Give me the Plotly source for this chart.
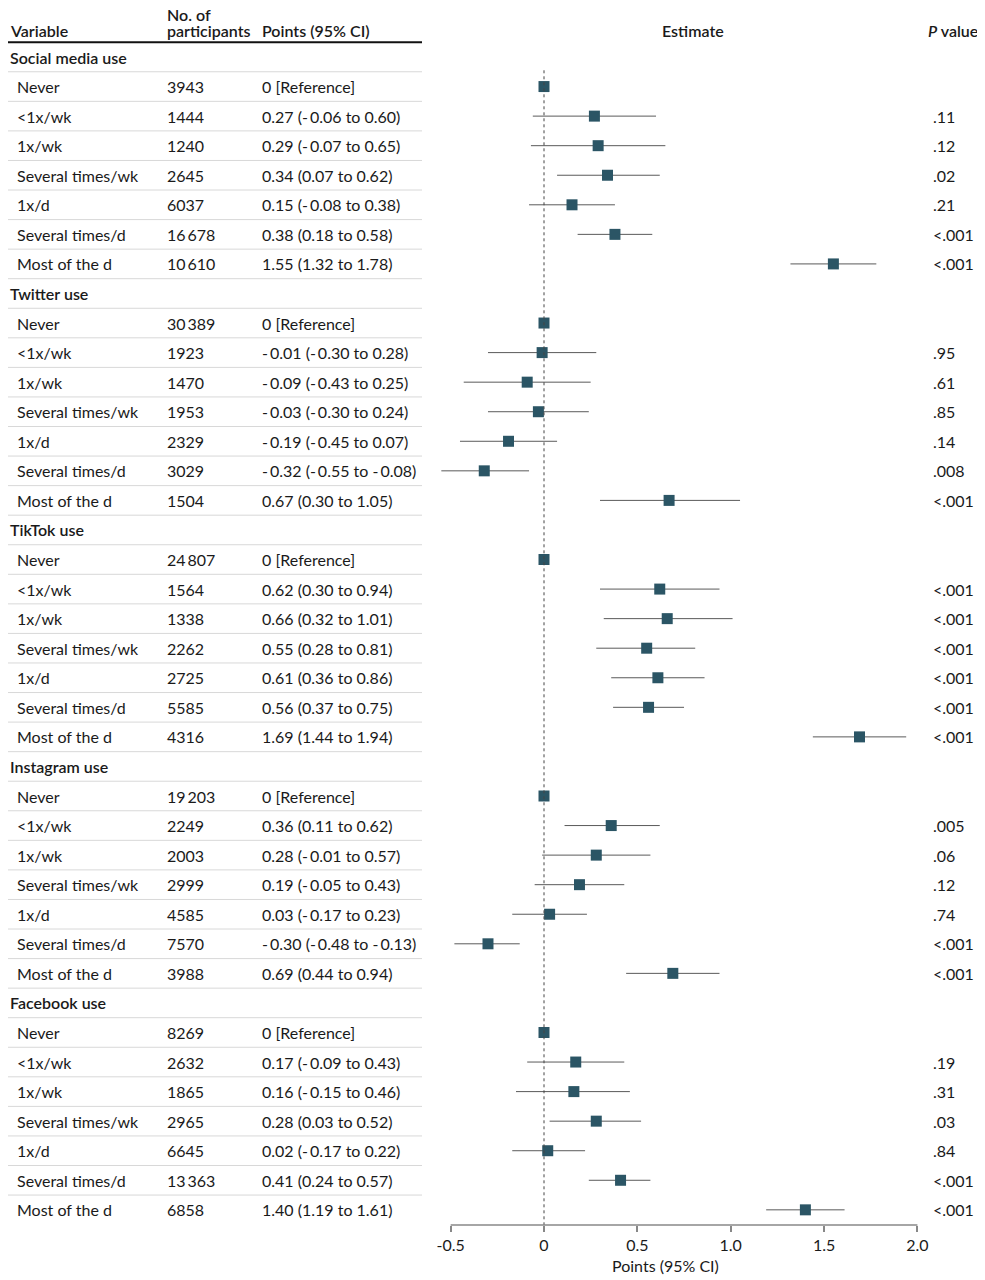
import plotly.graph_objects as go

# groups and row labels
groups = ["Social media use", "Twitter use", "TikTok use", "Instagram use", "Facebook use"]
levels = ["Never", "<1x/wk", "1x/wk", "Several times/wk", "1x/d", "Several times/d", "Most of the d"]

# participants per level, per group
n_social = [3943, 1444, 1240, 2645, 6037, 16678, 10610]
n_twitter = [30389, 1923, 1470, 1953, 2329, 3029, 1504]
n_tiktok = [24807, 1564, 1338, 2262, 2725, 5585, 4316]
n_instagram = [19203, 2249, 2003, 2999, 4585, 7570, 3988]
n_facebook = [8269, 2632, 1865, 2965, 6645, 13363, 6858]

# estimates (first level is the reference)
est_social = [0, 0.27, 0.29, 0.34, 0.15, 0.38, 1.55]
lo_social = [0, -0.06, -0.07, 0.07, -0.08, 0.18, 1.32]
hi_social = [0, 0.60, 0.65, 0.62, 0.38, 0.58, 1.78]
p_social = ["", ".11", ".12", ".02", ".21", "<.001", "<.001"]

est_twitter = [0, -0.01, -0.09, -0.03, -0.19, -0.32, 0.67]
lo_twitter = [0, -0.30, -0.43, -0.30, -0.45, -0.55, 0.30]
hi_twitter = [0, 0.28, 0.25, 0.24, 0.07, -0.08, 1.05]
p_twitter = ["", ".95", ".61", ".85", ".14", ".008", "<.001"]

est_tiktok = [0, 0.62, 0.66, 0.55, 0.61, 0.56, 1.69]
lo_tiktok = [0, 0.30, 0.32, 0.28, 0.36, 0.37, 1.44]
hi_tiktok = [0, 0.94, 1.01, 0.81, 0.86, 0.75, 1.94]
p_tiktok = ["", "<.001", "<.001", "<.001", "<.001", "<.001", "<.001"]

est_instagram = [0, 0.36, 0.28, 0.19, 0.03, -0.30, 0.69]
lo_instagram = [0, 0.11, -0.01, -0.05, -0.17, -0.48, 0.44]
hi_instagram = [0, 0.62, 0.57, 0.43, 0.23, -0.13, 0.94]
p_instagram = ["", ".005", ".06", ".12", ".74", "<.001", "<.001"]

est_facebook = [0, 0.17, 0.16, 0.28, 0.02, 0.41, 1.40]
lo_facebook = [0, -0.09, -0.15, 0.03, -0.17, 0.24, 1.19]
hi_facebook = [0, 0.43, 0.46, 0.52, 0.22, 0.57, 1.61]
p_facebook = ["", ".19", ".31", ".03", ".84", "<.001", "<.001"]

x_ticks = [-0.5, 0, 0.5, 1.0, 1.5, 2.0]
x_ticktext = ["-0.5", "0", "0.5", "1.0", "1.5", "2.0"]

all_n = [n_social, n_twitter, n_tiktok, n_instagram, n_facebook]
all_est = [est_social, est_twitter, est_tiktok, est_instagram, est_facebook]
all_lo = [lo_social, lo_twitter, lo_tiktok, lo_instagram, lo_facebook]
all_hi = [hi_social, hi_twitter, hi_tiktok, hi_instagram, hi_facebook]
all_p = [p_social, p_twitter, p_tiktok, p_instagram, p_facebook]

FONT = "Lato"
FS = 16
TXT = "#1a1a1a"
MARK = "#2b5565"

# the page puts the figure 8 px in from the top-left corner
OFF = 8
W, H = 985 - OFF, 1280 - OFF

# pixel mapping (page pixels): x = 544 px at 0, 186.7 px per unit;
# rows 29.56 px apart, first at 57 px; axis line at 1225 px
px0, ppu = 544 - OFF, 186.7
bottom_px = 1225 - OFF
pitch, first_px = 29.56, 57 - OFF


def fx(px):
    return max(px - OFF, 0) / W


def row_of(py):
    return (py - OFF - first_px) / pitch


def fnum(v):
    if v < 0:
        return "-\u2009%.2f" % abs(v)
    return "%.2f" % v


def fn(n):
    if n >= 10000:
        return "{:,}".format(n).replace(",", "\u2009")
    return str(n)


annotations = []
shapes = []


def text(x, y, s, weight=400, xanchor="left"):
    annotations.append(dict(
        x=fx(x), xref="paper", y=y, yref="y", text=s, showarrow=False,
        xanchor=xanchor, yanchor="middle",
        font=dict(family=FONT, size=FS, color=TXT, weight=weight)
    ))


# rows
pt_x, pt_y, ci_x, ci_y = [], [], [], []
row = 0
for g, name in enumerate(groups):
    text(5, row, name, weight=600)
    row += 1
    for k, lev in enumerate(levels):
        text(15, row, lev)
        text(165, row, fn(all_n[g][k]))
        if k == 0:
            text(260, row, "0 [Reference]")
        else:
            text(260, row, "%s (%s to %s)" % (fnum(all_est[g][k]), fnum(all_lo[g][k]), fnum(all_hi[g][k])))
            text(931, row, all_p[g][k])
            ci_x += [all_lo[g][k], all_hi[g][k], None]
            ci_y += [row, row, None]
        pt_x.append(all_est[g][k])
        pt_y.append(row)
        row += 1

n_rows = row

# separators
shapes.append(dict(type="line", xref="paper", yref="y", x0=fx(5), x1=fx(422),
                   y0=-0.5, y1=-0.5, line=dict(color="#111", width=2)))
for i in range(n_rows - 1):
    shapes.append(dict(type="line", xref="paper", yref="y", x0=fx(5), x1=fx(422),
                       y0=i + 0.5, y1=i + 0.5, line=dict(color="#d8d8d8", width=1)))

# reference line at 0 and axis line
shapes.append(dict(type="line", xref="x", yref="y", x0=0, x1=0, y0=0.45, y1=n_rows - 0.5 + 0.02,
                   line=dict(color="#444", width=1, dash="dot")))
shapes.append(dict(type="line", xref="x", yref="paper", x0=-0.5, x1=2.0, y0=0, y1=0,
                   line=dict(color="#888", width=1.5)))

# headers
hy = row_of(30)
text(5, hy, "Variable", weight=600)
text(165, row_of(14), "No. of", weight=600)
text(165, hy, "participants", weight=600)
text(260, hy, "Points (95% CI)", weight=600)
text(693, hy, "Estimate", weight=600, xanchor="center")
text(926, hy, "<i>P</i> value", weight=600)

# axis title, below the plot area
annotations.append(dict(
    x=fx(665), xref="paper", y=(bottom_px - (1265 - OFF)) / bottom_px, yref="paper",
    text="Points (95% CI)", showarrow=False, xanchor="center", yanchor="middle",
    font=dict(family=FONT, size=FS, color=TXT)
))

fig = go.Figure()
fig.add_trace(go.Scatter(
    x=ci_x, y=ci_y, mode="lines", line=dict(color="#5a5a5a", width=1),
    hoverinfo="skip", showlegend=False
))
fig.add_trace(go.Scatter(
    x=pt_x, y=pt_y, mode="markers",
    marker=dict(symbol="square", size=11, color=MARK),
    showlegend=False
))

fig.update_layout(
    width=W, height=H,
    margin=dict(l=0, r=0, t=0, b=H - bottom_px),
    plot_bgcolor="white", paper_bgcolor="white",
    xaxis=dict(
        range=[(0 - px0) / ppu, (W - px0) / ppu],
        tickvals=x_ticks, ticktext=x_ticktext,
        showgrid=False, zeroline=False, showline=False,
        ticks="outside", ticklen=6, tickcolor="#888", tickwidth=1.5,
        tickfont=dict(family=FONT, size=FS, color=TXT),
    ),
    yaxis=dict(
        range=[(bottom_px - first_px) / pitch, (0 - first_px) / pitch],
        visible=False, showgrid=False, zeroline=False,
    ),
    annotations=annotations,
    shapes=shapes,
)

fig.write_html("out.html")
